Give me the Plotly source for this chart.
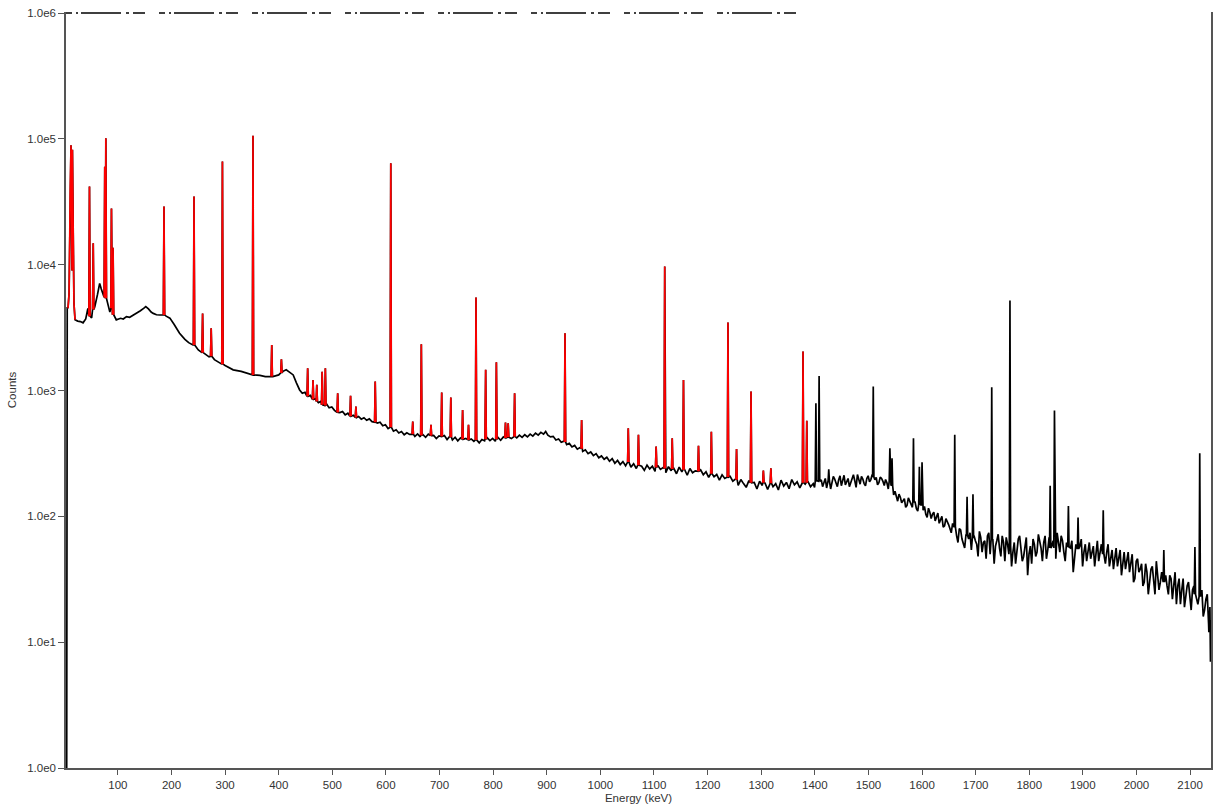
import plotly.graph_objects as go

# ---------------- data ----------------
# continuum of the spectrum as (keV, counts) pairs, in energy bands
cont_low = [(3.2, 1), (4.5, 1), (5.5, 4600), (8, 4400), (11, 4000), (20, 3650), (25, 3560), (30, 3530),
            (35, 3450), (40, 3700), (44, 4500), (48, 4000), (51, 3780), (57, 4650), (62, 5800),
            (66, 7100), (69, 6400), (72, 5900), (78, 5000), (85, 4200), (92, 3700), (97, 3640),
            (105, 3750), (110, 3700), (116, 3870), (122, 3820), (128, 3950), (135, 4110), (142, 4300),
            (148, 4500), (152, 4650), (157, 4450), (162, 4200), (166, 4100), (172, 4000), (178, 3980),
            (184, 3990), (190, 3900), (197, 3760), (205, 3350), (215, 2850), (225, 2550), (232, 2400),
            (240, 2300), (250, 2100), (259, 1980), (270, 1850), (280, 1760), (290, 1650), (300, 1580),
            (315, 1460), (330, 1420), (340, 1380), (352, 1330), (365, 1320), (375, 1290), (389, 1290),
            (400, 1330), (408, 1420), (414, 1460), (420, 1400), (427, 1330), (433, 1150)]

cont_mid = [(439, 1010), (444, 950), (449, 968), (454, 900), (459, 915), (464, 850), (469, 862),
            (474, 800), (479, 822), (484, 765), (489, 785), (494, 728), (499, 740), (504, 695),
            (509, 712), (514, 668), (519, 682), (524, 640), (529, 660), (534, 622), (539, 636),
            (544, 605), (549, 622), (554, 592), (559, 608), (564, 580), (569, 595), (574, 565),
            (579, 580), (584, 552), (589, 560), (594, 525), (599, 535), (604, 498), (609, 508),
            (614, 475), (619, 488), (624, 460), (629, 472), (634, 445), (639, 462), (644, 448),
            (649, 458), (654, 432), (659, 452), (664, 428), (669, 446), (674, 425), (679, 450),
            (684, 418), (689, 440), (694, 415), (699, 436), (704, 420), (709, 438), (714, 408),
            (719, 432), (724, 404), (729, 425), (734, 398), (739, 420), (744, 402), (749, 416),
            (754, 388), (759, 412), (764, 395), (769, 414), (774, 384), (779, 408), (784, 398),
            (789, 420), (794, 400), (799, 416), (804, 395), (809, 424), (814, 402), (819, 428),
            (824, 408), (829, 434), (834, 415), (839, 435), (844, 420), (849, 442), (854, 424),
            (859, 445), (864, 428), (869, 450), (874, 434), (879, 458), (884, 442), (889, 465),
            (894, 450), (898, 472), (902, 442), (907, 428), (912, 432), (917, 404), (922, 412),
            (927, 388), (932, 396), (937, 372), (942, 380), (947, 356), (952, 366), (957, 342),
            (962, 352), (967, 328), (972, 338), (977, 315), (982, 325), (987, 304), (992, 315),
            (997, 292), (1002, 302), (1007, 284), (1012, 295), (1017, 274), (1022, 288), (1027, 264),
            (1032, 278), (1037, 258), (1042, 272), (1047, 252), (1052, 266), (1057, 246), (1062, 262),
            (1067, 240), (1072, 258), (1077, 250), (1082, 232), (1087, 255), (1092, 238), (1097, 250),
            (1102, 228), (1107, 254), (1112, 236), (1117, 244), (1122, 222), (1127, 248), (1132, 230),
            (1137, 240), (1142, 218), (1147, 246), (1152, 226), (1157, 236), (1162, 212), (1167, 240),
            (1172, 222), (1177, 230), (1182, 210), (1187, 234), (1192, 214), (1197, 226), (1202, 204),
            (1207, 228), (1212, 206), (1217, 215), (1222, 194), (1227, 214), (1232, 200), (1237, 186),
            (1242, 208), (1247, 190), (1252, 198), (1257, 176), (1262, 196), (1267, 182), (1272, 170),
            (1277, 192), (1282, 178), (1287, 186), (1292, 165), (1297, 190), (1302, 176), (1307, 184),
            (1312, 164), (1317, 190), (1322, 172), (1327, 182), (1332, 162), (1337, 194), (1342, 174),
            (1347, 186), (1352, 166), (1357, 196), (1362, 178), (1367, 188), (1372, 168), (1377, 198),
            (1382, 180), (1387, 190), (1392, 172)]

cont_high = [(1397, 182), (1402, 200), (1407, 176), (1412, 195), (1417, 188), (1422, 168), (1427, 205),
             (1432, 185), (1437, 198), (1442, 172), (1447, 210), (1452, 192), (1457, 178), (1462, 200),
             (1467, 186), (1472, 214), (1477, 170), (1482, 196), (1487, 208), (1492, 182), (1497, 200),
             (1502, 188), (1507, 215), (1512, 195), (1517, 178), (1522, 205), (1527, 190), (1532, 196),
             (1537, 165), (1542, 178), (1547, 148), (1552, 140), (1557, 150), (1562, 128), (1567, 138),
             (1572, 122), (1577, 132), (1582, 118), (1587, 130), (1592, 110), (1597, 124), (1602, 112),
             (1607, 104), (1612, 116), (1617, 96), (1622, 108), (1627, 98), (1632, 88), (1637, 100),
             (1642, 84), (1647, 92), (1652, 80), (1657, 88), (1662, 74), (1667, 62), (1672, 78),
             (1677, 60), (1682, 72), (1687, 66), (1692, 54), (1697, 70), (1702, 60), (1707, 76),
             (1712, 52), (1717, 64), (1722, 70), (1727, 50), (1732, 66), (1737, 58), (1742, 72),
             (1747, 48), (1752, 62), (1757, 68), (1762, 50), (1767, 40), (1772, 62), (1777, 55),
             (1782, 70), (1787, 44), (1792, 60), (1797, 34), (1802, 58), (1807, 66), (1812, 48),
             (1817, 72), (1822, 56), (1827, 62), (1832, 46), (1837, 68), (1842, 58), (1847, 50),
             (1852, 74), (1857, 52), (1862, 64), (1867, 44), (1872, 70), (1877, 56), (1882, 36),
             (1887, 60), (1892, 48), (1897, 66), (1902, 52), (1907, 44), (1912, 62), (1917, 54),
             (1922, 40), (1927, 64), (1932, 50), (1937, 58), (1942, 42), (1947, 60), (1952, 46),
             (1957, 38), (1962, 56), (1967, 48), (1972, 34), (1977, 52), (1982, 44), (1987, 36),
             (1992, 50), (1997, 32), (2002, 46), (2007, 38), (2012, 28), (2017, 42), (2022, 24),
             (2027, 38), (2032, 30), (2037, 44), (2042, 26), (2047, 36), (2052, 50), (2057, 28),
             (2062, 34), (2067, 22), (2072, 36), (2077, 28), (2082, 20), (2087, 32), (2092, 24),
             (2097, 30), (2102, 18), (2107, 28), (2112, 22), (2117, 15), (2122, 26), (2127, 18),
             (2132, 24), (2135, 12), (2137, 19), (2138, 7), (2139, 15)]

# extra channels between the ones above (high-energy band, noisy)
cont_high_mid = [(1399.5, 170), (1404.5, 192), (1409.5, 210), (1414.5, 172), (1419.5, 200), (1424.5, 190),
                 (1429.5, 165), (1434.5, 208), (1439.5, 186), (1444.5, 195), (1449.5, 175), (1454.5, 212),
                 (1459.5, 190), (1464.5, 172), (1469.5, 205), (1474.5, 192), (1479.5, 215), (1484.5, 180),
                 (1489.5, 198), (1494.5, 175), (1499.5, 210), (1504.5, 196), (1509.5, 200), (1514.5, 204),
                 (1519.5, 185), (1524.5, 200), (1529.5, 176), (1534.5, 185), (1539.5, 170), (1544.5, 160),
                 (1549.5, 158), (1554.5, 132), (1559.5, 142), (1564.5, 135), (1569.5, 118), (1574.5, 140),
                 (1579.5, 125), (1584.5, 120), (1589.5, 115), (1594.5, 128), (1599.5, 110), (1604.5, 120),
                 (1609.5, 98), (1614.5, 108), (1619.5, 104), (1624.5, 92), (1629.5, 106), (1634.5, 94),
                 (1639.5, 82), (1644.5, 96), (1649.5, 86), (1654.5, 74), (1659.5, 84), (1664.5, 70),
                 (1669.5, 80), (1674.5, 66), (1679.5, 56), (1684.5, 70), (1689.5, 74), (1694.5, 60),
                 (1699.5, 64), (1704.5, 48), (1709.5, 68), (1714.5, 62), (1719.5, 46), (1724.5, 74),
                 (1729.5, 60), (1734.5, 42), (1739.5, 64), (1744.5, 56), (1749.5, 70), (1754.5, 44),
                 (1759.5, 60), (1764.5, 58), (1769.5, 52), (1774.5, 42), (1779.5, 66), (1784.5, 58),
                 (1789.5, 48), (1794.5, 68), (1799.5, 50), (1804.5, 42), (1809.5, 60), (1814.5, 52),
                 (1819.5, 64), (1824.5, 44), (1829.5, 70), (1834.5, 54), (1839.5, 56), (1844.5, 64),
                 (1849.5, 46), (1854.5, 60), (1859.5, 70), (1864.5, 52), (1869.5, 62), (1874.5, 46),
                 (1879.5, 64), (1884.5, 50), (1889.5, 55), (1894.5, 58), (1899.5, 40), (1904.5, 60),
                 (1909.5, 54), (1914.5, 46), (1919.5, 58), (1924.5, 52), (1929.5, 44), (1934.5, 60),
                 (1939.5, 50), (1944.5, 52), (1949.5, 40), (1954.5, 54), (1959.5, 48), (1964.5, 40),
                 (1969.5, 54), (1974.5, 44), (1979.5, 38), (1984.5, 52), (1989.5, 42), (1994.5, 30),
                 (1999.5, 44), (2004.5, 36), (2009.5, 42), (2014.5, 30), (2019.5, 36), (2024.5, 30),
                 (2029.5, 40), (2034.5, 24), (2039.5, 34), (2044.5, 30), (2049.5, 30), (2054.5, 34),
                 (2059.5, 24), (2064.5, 32), (2069.5, 30), (2074.5, 20), (2079.5, 32), (2084.5, 26),
                 (2089.5, 19), (2094.5, 28), (2099.5, 22), (2104.5, 26), (2109.5, 24), (2114.5, 20),
                 (2119.5, 23), (2124.5, 16), (2129.5, 22), (2134.5, 14)]

# red (identified) peaks: energy, top counts, base counts
red_peak_energy = [47, 54, 75.5, 77.5, 88, 91, 186, 242, 258, 274, 295, 352, 387, 405, 454, 464, 471,
                   481, 487, 510, 534, 544, 580, 609, 650, 666, 684, 704, 721, 743, 754, 768, 786, 806,
                   823, 828, 840, 934, 965, 1052, 1071, 1104, 1120, 1134, 1155, 1183, 1207, 1238, 1254,
                   1281, 1304, 1318, 1378, 1385]
red_peak_top = [41800, 14800, 60000, 101000, 28000, 13600, 29000, 34800, 4100, 3130, 66000, 106000, 2300,
                1770, 1500, 1210, 1110, 1410, 1500, 952, 906, 745, 1180, 64000, 566, 2330, 533, 963, 879,
                701, 533, 5480, 1460, 1680, 556, 550, 952, 2850, 584, 501, 444, 358, 9660, 418, 1210, 363,
                471, 3470, 343, 981, 231, 241, 2040, 576]
red_peak_base = [3900, 4400, 5500, 5400, 4500, 4000, 3990, 2300, 2000, 1870, 1620, 1330, 1290, 1380, 900,
                 850, 820, 770, 760, 670, 625, 610, 560, 510, 450, 440, 438, 432, 425, 410, 405, 405, 410,
                 410, 420, 425, 430, 390, 345, 270, 255, 245, 240, 238, 234, 228, 218, 205, 195, 185, 185,
                 183, 185, 185]

# low-energy X-ray cluster drawn in red (keV, counts)
xray_energy = [7, 9, 11, 12.5, 13.5, 14.3, 15.2, 16.0, 16.8, 18, 20]
xray_counts = [4500, 6000, 40000, 89000, 30000, 9000, 82000, 20000, 21000, 5000, 3650]

# black (unidentified) peaks: energy, top counts, base counts
blk_peak_energy = [1402, 1408, 1426, 1509, 1540, 1544, 1584, 1595, 1600, 1661, 1684, 1695, 1730, 1764,
                   1839, 1847, 1873, 1891, 1938, 2051, 2109, 2118]
blk_peak_top = [792, 1306, 237, 1074, 348, 290, 418, 248, 269, 444, 143, 150, 1062, 5190, 175, 692, 121,
                98, 112, 54, 57, 317]
blk_peak_base = [190, 190, 192, 205, 190, 175, 130, 125, 122, 82, 70, 67, 65, 58, 56, 56, 57, 55, 50, 30,
                 24, 23]

y_tick_vals = [1, 10, 100, 1000, 10000, 100000, 1000000]
y_tick_text = ["1.0e0", "1.0e1", "1.0e2", "1.0e3", "1.0e4", "1.0e5", "1.0e6"]
x_tick_vals = [100, 200, 300, 400, 500, 600, 700, 800, 900, 1000, 1100, 1200, 1300, 1400, 1500, 1600,
               1700, 1800, 1900, 2000, 2100]

# ---------------- build traces ----------------
HALF_W = 1.2  # drawing half-width of a peak (keV)

all_peaks = list(zip(red_peak_energy, red_peak_top, red_peak_base)) + \
    list(zip(blk_peak_energy, blk_peak_top, blk_peak_base))

pts = []
for e, c in cont_low + cont_mid + cont_high + cont_high_mid:
    if any(abs(e - pe) <= HALF_W + 0.6 for pe, _, _ in all_peaks):
        continue
    if 6.5 < e < 20.5:
        continue
    pts.append((e, c))
for pe, top, base in all_peaks:
    pts += [(pe - HALF_W, base), (pe, top), (pe + HALF_W, base)]
pts += list(zip(xray_energy, xray_counts))
pts.sort(key=lambda p: p[0])
blk_x = [p[0] for p in pts]
blk_y = [p[1] for p in pts]

red_x, red_y = [], []
red_x += xray_energy + [None]
red_y += xray_counts + [None]
for pe, top, base in zip(red_peak_energy, red_peak_top, red_peak_base):
    red_x += [pe - HALF_W, pe, pe + HALF_W, None]
    red_y += [base, top, base, None]

fig = go.Figure()
fig.add_trace(go.Scatter(x=blk_x, y=blk_y, mode="lines",
                         line=dict(color="black", width=1.7), showlegend=False))
fig.add_trace(go.Scatter(x=red_x, y=red_y, mode="lines", connectgaps=False,
                         line=dict(color="#ff0000", width=1.6), showlegend=False))
# broken line at the top of the scale
fig.add_trace(go.Scatter(x=[3.2, 1389], y=[1e6, 1e6], mode="lines",
                         line=dict(color="black", width=1.4,
                                   dash="6px,4px,2px,3px,40px,5px,3px,4px,12px,14px"),
                         showlegend=False))

font = dict(family="Arial, Liberation Sans, sans-serif", size=11.5, color="#333333")
fig.update_layout(
    width=1215, height=810, autosize=False,
    margin=dict(l=66, r=2, t=12, b=42),
    paper_bgcolor="white", plot_bgcolor="white",
    font=font,
    xaxis=dict(range=[3.2, 2139], tickvals=x_tick_vals, ticks="outside", ticklen=5,
               tickcolor="#555555", showline=True, linecolor="#555555", linewidth=1.5,
               showgrid=False, zeroline=False, mirror=False,
               title=dict(text="Energy (keV)", standoff=4, font=font)),
    yaxis=dict(type="log", range=[0, 6.008], tickvals=y_tick_vals, ticktext=y_tick_text,
               ticks="outside", ticklen=6, tickcolor="#555555", showline=True,
               linecolor="#555555", linewidth=1.5, mirror=True, showgrid=False, zeroline=False,
               title=dict(text="Counts", standoff=8, font=font)),
)
fig.write_html("out.html", config={"displayModeBar": False},
               post_script="document.body.style.margin='0';document.body.style.overflow='hidden';")
